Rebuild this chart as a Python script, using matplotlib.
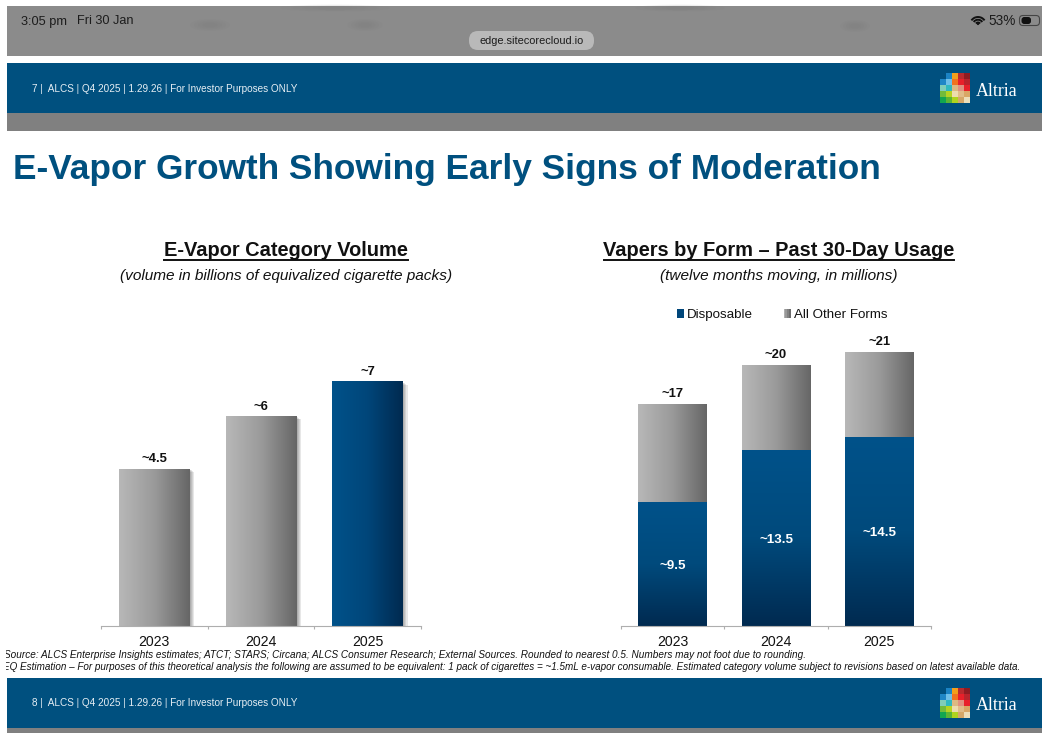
#!/usr/bin/env python3
"""E-Vapor slide screenshot: category volume and vapers by form."""

import matplotlib
matplotlib.use('Agg')
import matplotlib.pyplot as plt
import matplotlib.patheffects as pe
from matplotlib.colors import LinearSegmentedColormap
from matplotlib.legend_handler import HandlerTuple
from matplotlib.patches import Rectangle, FancyBboxPatch, Arc, Circle, Ellipse
import numpy as np

plt.rcParams['font.family'] = ['Liberation Sans', 'DejaVu Sans']

years = ['2023', '2024', '2025']
volume = [4.5, 6, 7]
volume_labels = ['~4.5', '~6', '~7']

disposable = [9.5, 13.5, 14.5]
other_forms = [7.5, 6.5, 6.5]
disposable_labels = ['~9.5', '~13.5', '~14.5']
total_labels = ['~17', '~20', '~21']

footer_1 = ('Source: ALCS Enterprise Insights estimates; ATCT; STARS; Circana; ALCS Consumer Research; '
            'External Sources. Rounded to nearest 0.5. Numbers may not foot due to rounding.')
footer_2 = ('EQ Estimation – For purposes of this theoretical analysis the following are assumed to be '
            'equivalent: 1 pack of cigarettes = ~1.5mL e-vapor consumable. Estimated category volume '
            'subject to revisions based on latest available data.')

# logo pixels
logo = [['#ffffff00', '#1b83c4', '#f29f1c', '#b92a2e', '#8e1c22'],
        ['#1f86c6', '#6fbfe8', '#f0731f', '#e8202a', '#b8242c'],
        ['#7fcdb8', '#2fb8c0', '#dcb982', '#e09080', '#e8202a'],
        ['#72bb3a', '#b5d321', '#ecdcae', '#e0bd88', '#d9a765'],
        ['#12a650', '#5bb534', '#b0d41e', '#d5a868', '#ecdfba']]

NAVY = '#00507f'
BLUE_CMAP = LinearSegmentedColormap.from_list('blue', ['#00528a', '#00467a', '#002a50'])
GREY_CMAP = LinearSegmentedColormap.from_list('grey', ['#b8b8b8', '#9a9a9a', '#666666'])
SOFT_SHADOW = [pe.SimplePatchShadow(offset=(o, -o * 0.6), alpha=0.11) for o in (3.2, 2.4, 1.6, 0.8)] + [pe.Normal()]


def gradient_bar(ax, bar, cmap, vertical=False):
    """Paint a gradient over a bar, clipped to it."""
    x, y = bar.get_x(), bar.get_y()
    w, h = bar.get_width(), bar.get_height()
    grad = np.linspace(0, 1, 256)
    grad = grad.reshape(-1, 1) if vertical else grad.reshape(1, -1)
    ax.imshow(grad, extent=(x, x + w, y, y + h), cmap=cmap, aspect='auto',
              origin='upper', zorder=bar.get_zorder() + 0.1)


def style_axis(ax, n):
    for side in ['top', 'right', 'left']:
        ax.spines[side].set_visible(False)
    ax.spines['bottom'].set_color('#aeaeae')
    ax.spines['bottom'].set_linewidth(0.8)
    ax.set_yticks([])
    ax.set_xticks(np.arange(n + 1) - 0.5, minor=False)
    ax.set_xticklabels([])
    ax.tick_params(axis='x', length=2.5, width=0.8, color='#aeaeae', direction='out')
    for i, y in enumerate(years):
        ax.annotate(y, xy=(i, 0), xycoords=('data', 'axes fraction'), xytext=(0, -6.5),
                    textcoords='offset points', ha='center', va='top', fontsize=10.2, color='#111111')


def add_footer_band(bg, top, label):
    bg.add_patch(Rectangle((7, top), 1035, 50, fc=NAVY, ec='none'))
    bg.text(32, top + 25.5, label, color='#e6eef4', fontsize=7.2, va='center')
    for r, row in enumerate(logo):
        for c, col in enumerate(row):
            bg.add_patch(Rectangle((940 + c * 6, top + 10 + r * 6), 6, 6, fc=col, ec='none'))
    bg.text(976, top + 28, 'Altria', color='white', fontsize=12.9, va='center', family='Liberation Serif')


fig = plt.figure(figsize=(10.42, 7.33), dpi=100, facecolor='white')

# screenshot chrome, in pixels
bg = fig.add_axes([0, 0, 1, 1], zorder=0)
bg.set_xlim(0, 1042)
bg.set_ylim(733, 0)
bg.axis('off')

bg.add_patch(Rectangle((7, 6), 1035, 50, fc='#8b8b8b', ec='none'))
for cx, cy, w, h in [(210, 25, 40, 12), (365, 25, 35, 12), (335, 8, 110, 7), (680, 8, 90, 7), (855, 26, 30, 12)]:
    for s in [1.0, 0.8, 0.6, 0.4]:
        bg.add_patch(Ellipse((cx, cy), w * s, h * s, fc='#777777', ec='none', alpha=0.08))
add_footer_band(bg, 63, '7 |  ALCS | Q4 2025 | 1.29.26 | For Investor Purposes ONLY')
bg.add_patch(Rectangle((7, 113), 1035, 18, fc='#808080', ec='none'))
add_footer_band(bg, 678, '8 |  ALCS | Q4 2025 | 1.29.26 | For Investor Purposes ONLY')
bg.add_patch(Rectangle((7, 728), 1035, 5, fc='#808080', ec='none'))

bg.text(21, 24.5, '3:05 pm', fontsize=9.2, color='#1c1c1c', va='baseline')
bg.text(77, 24.5, 'Fri 30 Jan', fontsize=9.2, color='#1c1c1c', va='baseline')
bg.text(988, 25, '53%', fontsize=9.8, color='#1c1c1c', va='baseline')
bg.add_patch(FancyBboxPatch((1019.5, 15.5), 20, 10, boxstyle='round,pad=0,rounding_size=3.5',
                            fc='none', ec='#444444', lw=0.8))
bg.add_patch(FancyBboxPatch((1021.5, 17), 9.5, 7, boxstyle='round,pad=0,rounding_size=2.8',
                            fc='#111111', ec='none'))
for d in [16, 10.5, 5]:
    bg.add_patch(Arc((978, 25), d, d, theta1=215, theta2=325, ec='#111111', lw=1.4))
bg.add_patch(Circle((978, 24), 1.1, fc='#111111', ec='none'))

bg.add_patch(FancyBboxPatch((469, 31), 125, 19, boxstyle='round,pad=0,rounding_size=9',
                            fc='#b9b9b9', ec='none'))
bg.text(531.5, 41, 'edge.sitecorecloud.io', fontsize=7.9, color='#1c1c1c', ha='center', va='center')

bg.text(13, 169.5, 'E-Vapor Growth Showing Early Signs of Moderation', fontsize=25.4,
        fontweight='bold', color='#00507f', va='center')

# chart headings
bg.text(286, 250.5, 'E-Vapor Category Volume', fontsize=14.37, fontweight='bold', ha='center',
        va='center', color='#111111')
bg.plot([164, 408], [259.5, 259.5], color='#111111', lw=1.4)
bg.text(286, 276, '(volume in billions of equivalized cigarette packs)', fontsize=11.07, style='italic',
        ha='center', va='center', color='#111111')
bg.text(779, 250.5, 'Vapers by Form – Past 30-Day Usage', fontsize=14.37, fontweight='bold', ha='center',
        va='center', color='#111111')
bg.plot([604, 954], [259.5, 259.5], color='#111111', lw=1.4)
bg.text(779, 276, '(twelve months moving, in millions)', fontsize=11.07, style='italic',
        ha='center', va='center', color='#111111')

bg.text(4, 655.5, footer_1, fontsize=7.16, style='italic', va='center', color='#111111')
bg.text(3, 667.5, footer_2, fontsize=7.13, style='italic', va='center', color='#111111')
# the screenshot's white margin cuts the first letter of both lines
bg.add_patch(Rectangle((0, 645), 6, 30, fc='white', ec='none', zorder=5))


def px_axes(x0, x1, y0, y1):
    return fig.add_axes([x0 / 1042, 1 - y1 / 733, (x1 - x0) / 1042, (y1 - y0) / 733], zorder=1)


# left chart
ax1 = px_axes(101, 421, 326, 626)
ax1.patch.set_alpha(0)
x = np.arange(len(years))
bars = ax1.bar(x, volume, width=0.665, color='#888888', zorder=2, path_effects=SOFT_SHADOW)
for i, bar in enumerate(bars):
    gradient_bar(ax1, bar, BLUE_CMAP if i == 2 else GREY_CMAP)
    ax1.annotate(volume_labels[i], xy=(i, volume[i]), xytext=(0, 3), textcoords='offset points',
                 ha='center', va='bottom', fontsize=9.4, fontweight='bold', color='#111111')
ax1.set_xlim(-0.5, 2.5)
ax1.set_ylim(0, 300 / 34.87)
style_axis(ax1, 3)

# right chart
ax2 = px_axes(621, 931, 326, 626)
ax2.patch.set_alpha(0)
x = np.arange(len(years))
bars_d = ax2.bar(x, disposable, width=0.667, color='#00467a', zorder=2, label='Disposable')
bars_o = ax2.bar(x, other_forms, width=0.667, bottom=disposable, color='#8c8c8c', zorder=2, label='All Other Forms')
for i in range(len(years)):
    gradient_bar(ax2, bars_d[i], LinearSegmentedColormap.from_list('v', ['#00528a', '#004a7c', '#002a50']), vertical=True)
    gradient_bar(ax2, bars_o[i], GREY_CMAP)
    ax2.annotate(disposable_labels[i], xy=(i, disposable[i] / 2), xytext=(0, -1.5), textcoords='offset points',
                 ha='center', va='center', fontsize=9.6, fontweight='bold', color='white', zorder=5)
    ax2.annotate(total_labels[i], xy=(i, disposable[i] + other_forms[i]), xytext=(0, 3.2),
                 textcoords='offset points', ha='center', va='bottom', fontsize=9.4,
                 fontweight='bold', color='#111111')
ax2.set_xlim(-0.5, 2.5)
ax2.set_ylim(0, 300 / 13.05)
style_axis(ax2, 3)

navy_swatch = Rectangle((0, 0), 1, 1, fc='#00467a', ec='none')
grey_swatch = tuple(Rectangle((0, 0), 1, 1, fc=c, ec='none') for c in ['#b0b0b0', '#999999', '#828282', '#6c6c6c'])
ax2.legend([navy_swatch, grey_swatch], ['Disposable', 'All Other Forms'],
           handler_map={tuple: HandlerTuple(ndivide=None, pad=0)},
           loc='center', bbox_to_anchor=(161 / 310, (626 - 315) / 300), frameon=False, ncol=2,
           fontsize=9.6, handlelength=0.55, handleheight=0.6, handletextpad=0.22, columnspacing=2.3,
           labelcolor='#111111')

fig.savefig('out.png', dpi=100, facecolor='white')
